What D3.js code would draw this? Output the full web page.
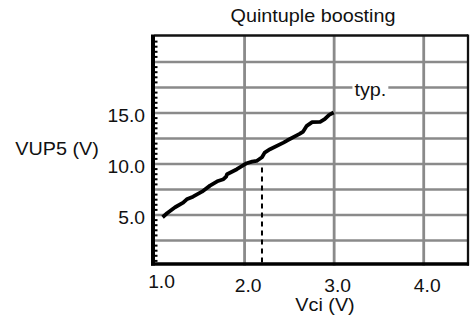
<!DOCTYPE html>
<html>
<head>
<meta charset="utf-8">
<script src="https://cdn.jsdelivr.net/npm/d3@7"></script>
<style>
body { margin: 0; background: #fff; }
text { font-family: "Liberation Sans", Arial, sans-serif; fill: #111; }
</style>
</head>
<body>
<svg id="chart" width="470" height="329"></svg>
<script>
// traced curve: Vci (V) vs VUP5 (V)
const vci  = [1.09, 1.14, 1.23, 1.32, 1.36, 1.43, 1.53, 1.62, 1.71, 1.77, 1.80, 1.81, 1.92, 2.03, 2.09, 2.14, 2.20, 2.23, 2.29, 2.44, 2.48, 2.62, 2.66, 2.70, 2.76, 2.85, 2.90, 2.95, 3.00];
const vup5 = [4.73, 5.12, 5.71, 6.16, 6.49, 6.75, 7.24, 7.83, 8.29, 8.46, 8.71, 8.95, 9.44, 10.03, 10.19, 10.25, 10.61, 11.07, 11.40, 12.05, 12.25, 12.90, 13.13, 13.69, 14.05, 14.08, 14.34, 14.77, 15.0];

const xTicks = [1, 2, 3, 4];
const xTickLabels = ["1.0", "2.0", "3.0", "4.0"];
const yGrid = [2.5, 5, 7.5, 10, 12.5, 15, 17.5, 20];
const yTicks = [5, 10, 15];
const yTickLabels = ["5.0", "10.0", "15.0"];
const markVci = 2.2, markVup = 10.0;
const noteVci = 3.41, noteVup = 17.5;

const title = "Quintuple boosting";
const xTitle = "Vci (V)";
const yTitle = "VUP5 (V)";
const note = "typ.";

const mLeft = 154.5, mRight = 468, mTop = 36, mBottom = 265.5;
const sx = 1.1; // text is a bit stretched horizontally

const svg = d3.select("#chart");
const x = d3.scaleLinear().domain([1.0, 4.5]).range([mLeft, mRight]);
const y = d3.scaleLinear().domain([0, 22.5]).range([mBottom, mTop]);

// grid
svg.append("g")
    .attr("transform", `translate(${mLeft},0)`)
    .call(d3.axisLeft(y).tickValues(yGrid).tickSize(-(mRight - mLeft)).tickFormat(""))
    .call(g => g.select(".domain").remove())
    .call(g => g.selectAll("line").attr("stroke", "#8a8a8a").attr("stroke-width", 2.5));

svg.append("g")
    .attr("transform", `translate(0,${mBottom})`)
    .call(d3.axisBottom(x).tickValues(xTicks.slice(1)).tickSize(-(mBottom - mTop)).tickFormat(""))
    .call(g => g.select(".domain").remove())
    .call(g => g.selectAll("line").attr("stroke", "#8a8a8a").attr("stroke-width", 2.8));

// minor ticks on left axis
const minor = d3.range(0.5, 22.5, 0.5).filter(v => Math.abs(v / 2.5 - Math.round(v / 2.5)) > 0.01);
svg.append("g")
    .attr("transform", `translate(${mLeft},0)`)
    .call(d3.axisLeft(y).tickValues(minor).tickSize(-3).tickFormat(""))
    .call(g => g.select(".domain").remove())
    .call(g => g.selectAll("line").attr("stroke", "#000").attr("stroke-width", 2));

// frame
svg.append("line").attr("x1", mLeft).attr("x2", mRight).attr("y1", mTop - 0.5).attr("y2", mTop - 0.5)
    .attr("stroke", "#111").attr("stroke-width", 2.3);
svg.append("line").attr("x1", mRight).attr("x2", mRight).attr("y1", mTop - 1.5).attr("y2", mBottom)
    .attr("stroke", "#111").attr("stroke-width", 2.3);
svg.append("line").attr("x1", mLeft - 1.5).attr("x2", mLeft - 1.5).attr("y1", mTop - 1.5).attr("y2", mBottom)
    .attr("stroke", "#000").attr("stroke-width", 4);
svg.append("line").attr("x1", mLeft - 3.5).attr("x2", mRight + 1).attr("y1", mBottom - 1.5).attr("y2", mBottom - 1.5)
    .attr("stroke", "#000").attr("stroke-width", 3.6);

// dashed marker
svg.append("line")
    .attr("x1", x(markVci)).attr("x2", x(markVci))
    .attr("y1", mBottom - 3).attr("y2", y(markVup))
    .attr("stroke", "#000").attr("stroke-width", 2).attr("stroke-dasharray", "5,4");

// curve
const pts = vci.map((v, i) => [v, vup5[i]]);
svg.append("path")
    .datum(pts)
    .attr("fill", "none")
    .attr("stroke", "#000")
    .attr("stroke-width", 3.8)
    .attr("stroke-linejoin", "round")
    .attr("d", d3.line().x(d => x(d[0])).y(d => y(d[1])));

function label(str, px, py, size, anchor) {
    return svg.append("text")
        .attr("transform", `translate(${px},${py}) scale(${sx},1)`)
        .attr("text-anchor", anchor)
        .attr("font-size", size)
        .text(str);
}

// note with white backing
const nt = label(note, x(noteVci), y(noteVup) + 9, 18, "middle");
const bb = nt.node().getBBox();
svg.insert("rect", () => nt.node())
    .attr("x", x(noteVci) - bb.width * sx / 2 - 2)
    .attr("y", y(noteVup) - 3)
    .attr("width", bb.width * sx + 4)
    .attr("height", 6)
    .attr("fill", "#fff");

// tick labels
yTicks.forEach((v, i) => label(yTickLabels[i], 145, y(v) + 9.5, 17.5, "end"));
xTicks.forEach((v, i) => label(xTickLabels[i], x(v) + (i === 0 ? 7 : 4), i === 0 ? 287.5 : 292, 17.5, "middle"));

// titles
label(title, 313, 22, 18, "middle");
label(xTitle, 325, 311, 18, "middle");
label(yTitle, 57, 155, 18, "middle");
</script>
</body>
</html>
